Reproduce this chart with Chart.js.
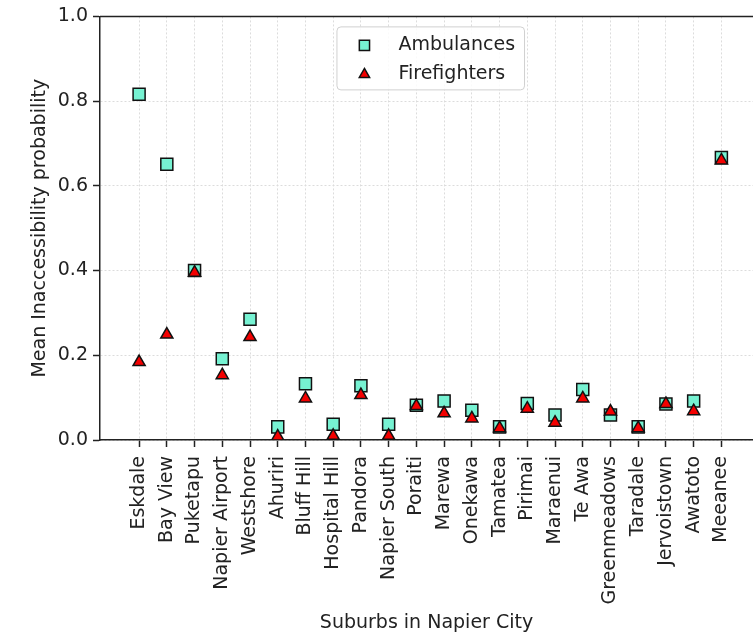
<!DOCTYPE html>
<html lang="en">
<head>
  <meta charset="UTF-8">
  <title>Mean Inaccessibility probability by suburb</title>
  <script src="https://cdn.jsdelivr.net/npm/chart.js"></script>
  <style>
    html, body {
      margin: 0;
      padding: 0;
      background: #fff;
      overflow: hidden;
    }
    /* the axes run off the right edge of the picture, as in the source figure */
    .chart-box {
      width: 753px;
      height: 637px;
      overflow: hidden;
    }
  </style>
</head>
<body>
  <div class="chart-box">
    <canvas id="accessChart" width="763" height="637"></canvas>
  </div>
  <script>
    const suburbs = ['Eskdale', 'Bay View', 'Puketapu', 'Napier Airport', 'Westshore', 'Ahuriri', 'Bluff Hill',
      'Hospital Hill', 'Pandora', 'Napier South', 'Poraiti', 'Marewa', 'Onekawa', 'Tamatea', 'Pirimai',
      'Maraenui', 'Te Awa', 'Greenmeadows', 'Taradale', 'Jervoistown', 'Awatoto', 'Meeanee'];
    const ambulances = [0.816, 0.651, 0.400, 0.192, 0.285, 0.031, 0.133, 0.037, 0.128, 0.037, 0.082,
      0.092, 0.070, 0.031, 0.086, 0.059, 0.119, 0.059, 0.031, 0.085, 0.092, 0.667];
    const firefighters = [0.184, 0.249, 0.395, 0.153, 0.243, 0.008, 0.098, 0.010, 0.106, 0.010, 0.080,
      0.063, 0.051, 0.028, 0.074, 0.041, 0.098, 0.067, 0.028, 0.085, 0.068, 0.660];
    const yTicks = [0, 0.2, 0.4, 0.6, 0.8, 1.0];

    const FONT = 'DejaVu Sans';
    const INK = '#222';
    Chart.defaults.font.family = FONT;
    Chart.defaults.font.size = 19;
    Chart.defaults.color = INK;

    const toPoints = vals => vals.map((v, i) => ({ x: i, y: v }));

    // top spine, matplotlib style
    const topSpine = {
      id: 'topSpine',
      afterDraw(chart) {
        const { ctx, chartArea } = chart;
        ctx.save();
        ctx.strokeStyle = INK;
        ctx.lineWidth = 1.5;
        ctx.beginPath();
        ctx.moveTo(chartArea.left, chartArea.top);
        ctx.lineTo(chartArea.right, chartArea.top);
        ctx.stroke();
        ctx.restore();
      }
    };

    // legend box in the upper centre of the axes
    const legendBox = {
      id: 'legendBox',
      afterDatasetsDraw(chart) {
        const { ctx, chartArea, scales } = chart;
        const sets = chart.data.datasets;
        ctx.save();
        ctx.font = '19px "' + FONT + '"';
        const textW = Math.max(...sets.map(d => ctx.measureText(d.label).width));
        const w = 62 + textW + 9;
        const h = 63;
        const cx = (scales.x.getPixelForValue(0) + scales.x.getPixelForValue(suburbs.length - 1)) / 2;
        const left = cx - w / 2;
        const top = chartArea.top + 10;

        ctx.fillStyle = 'rgba(255,255,255,0.85)';
        ctx.strokeStyle = '#d0d0d0';
        ctx.lineWidth = 1;
        ctx.beginPath();
        ctx.roundRect(left + 0.5, top + 0.5, w, h, 4);
        ctx.fill();
        ctx.stroke();

        sets.forEach((d, i) => {
          const y = top + 19 + i * 29;
          const mx = left + 28;
          ctx.fillStyle = d.backgroundColor;
          ctx.strokeStyle = d.borderColor;
          ctx.lineWidth = d.borderWidth;
          ctx.beginPath();
          if (d.pointStyle === 'rect') {
            const s = d.pointRadius * Math.SQRT1_2 * 0.85;
            ctx.rect(mx - s, y - s, 2 * s, 2 * s);
          } else {
            const r = d.pointRadius * 0.85;
            ctx.moveTo(mx, y - r);
            ctx.lineTo(mx + r * 0.866, y + r / 2);
            ctx.lineTo(mx - r * 0.866, y + r / 2);
            ctx.closePath();
          }
          ctx.fill();
          ctx.stroke();
          ctx.fillStyle = INK;
          ctx.textBaseline = 'middle';
          ctx.textAlign = 'left';
          ctx.fillText(d.label, left + 62, y);
        });
        ctx.restore();
      }
    };

    new Chart(document.getElementById('accessChart').getContext('2d'), {
      type: 'scatter',
      data: {
        datasets: [
          {
            label: 'Ambulances',
            data: toPoints(ambulances),
            pointStyle: 'rect',
            pointRadius: 8.5,
            pointHoverRadius: 8.5,
            backgroundColor: '#76f2d2',
            borderColor: '#111',
            borderWidth: 1.5,
            order: 2
          },
          {
            label: 'Firefighters',
            data: toPoints(firefighters),
            pointStyle: 'triangle',
            pointRadius: 7,
            pointHoverRadius: 7,
            backgroundColor: '#f40000',
            borderColor: '#111',
            borderWidth: 1.5,
            order: 1
          }
        ]
      },
      options: {
        responsive: false,
        animation: false,
        layout: { padding: { top: 15, right: 0, bottom: 0, left: 0 } },
        plugins: {
          legend: { display: false },
          tooltip: { enabled: false }
        },
        scales: {
          x: {
            type: 'linear',
            min: -1.41,
            max: 22.14,
            afterBuildTicks: scale => {
              scale.ticks = suburbs.map((_, i) => ({ value: i }));
            },
            afterFit: scale => { scale.height = 197; },
            ticks: {
              autoSkip: false,
              minRotation: 90,
              maxRotation: 90,
              padding: 9,
              color: INK,
              callback: v => suburbs[v]
            },
            grid: {
              color: '#dcdcdc',
              lineWidth: 1,
              tickLength: 7,
              tickColor: INK,
              tickWidth: 1.5,
              tickBorderDash: []
            },
            border: { display: true, color: INK, width: 1.5, dash: [2, 2] },
            title: {
              display: true,
              text: 'Suburbs in Napier City',
              color: INK,
              padding: { top: 0, bottom: 3 }
            }
          },
          y: {
            min: 0,
            max: 1,
            afterBuildTicks: scale => {
              scale.ticks = yTicks.map(v => ({ value: v }));
            },
            afterFit: scale => { scale.width = 100; },
            ticks: {
              padding: 5,
              color: INK,
              callback: v => v.toFixed(1)
            },
            grid: {
              color: '#dcdcdc',
              lineWidth: 1,
              tickLength: 7,
              tickColor: INK,
              tickWidth: 1.5,
              tickBorderDash: []
            },
            border: { display: true, color: INK, width: 1.5, dash: [2, 2] },
            title: {
              display: true,
              text: 'Mean Inaccessibility probability',
              color: INK,
              padding: { top: 29, bottom: 0 }
            }
          }
        }
      },
      plugins: [topSpine, legendBox]
    });
  </script>
</body>
</html>
